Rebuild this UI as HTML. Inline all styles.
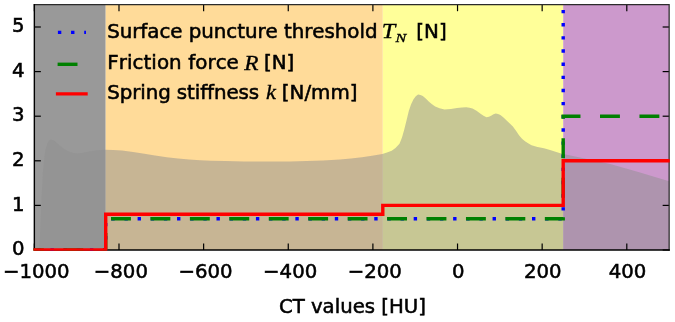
<!DOCTYPE html>
<html><head><meta charset="utf-8"><title>CT values plot</title>
<style>
html,body{margin:0;padding:0;background:#fff;}
svg{display:block;filter:blur(0.4px)}
text{font-family:"DejaVu Sans","Liberation Sans",sans-serif;font-size:20px;fill:#000;stroke:#000;stroke-width:0.55px;font-kerning:none;font-variant-ligatures:none;font-feature-settings:"kern" 0,"liga" 0,"clig" 0}
.lg text{font-size:19.85px}
.tk text{font-size:19.7px}
.lg text.m{font-family:"Liberation Serif","DejaVu Serif",serif;font-style:italic;stroke-width:0.35px}
</style></head><body>
<svg width="675" height="322" viewBox="0 0 675 322">
<rect width="675" height="322" fill="#fff"/>
<defs><clipPath id="ax"><rect x="34.35" y="4.7" width="634.8" height="245.3"/></clipPath>
<clipPath id="ax2"><rect x="33.45" y="4.1000000000000005" width="636.3" height="246.60000000000002"/></clipPath></defs>
<g clip-path="url(#ax)">
<rect x="34.35" y="4.7" width="71.35" height="245.3" fill="#999999"/>
<rect x="105.7" y="4.7" width="277.10" height="245.3" fill="#ffdb99"/>
<rect x="382.8" y="4.7" width="180.40" height="245.3" fill="#ffff99"/>
<rect x="563.2" y="4.7" width="105.95" height="245.3" fill="#cc99cc"/>
<path d="M39.3,251.0 L40.5,225.0 L41.8,193.0 L43.0,171.6 L44.3,158.0 L45.5,149.8 L47.5,143.0 L49.0,140.6 L51.0,139.6 L54.0,140.6 L58.0,144.0 L63.0,148.3 L68.0,151.3 L73.0,153.0 L77.0,153.4 L82.0,153.0 L88.0,151.8 L95.0,150.6 L105.0,149.8 L113.0,150.0 L122.0,150.5 L133.0,152.0 L144.4,153.8 L155.0,155.6 L166.7,157.3 L178.0,158.6 L189.0,159.6 L200.0,160.2 L211.0,160.7 L225.0,161.1 L244.0,161.5 L270.0,161.6 L290.0,161.4 L306.7,161.1 L323.0,160.5 L340.0,159.6 L351.0,158.6 L362.0,157.3 L372.0,155.8 L382.4,153.9 L387.0,152.6 L391.7,150.8 L395.5,148.0 L399.5,143.7 L402.0,137.5 L404.2,129.7 L406.5,120.5 L408.8,111.0 L411.0,104.5 L413.5,99.3 L415.8,96.2 L418.1,94.6 L420.5,94.9 L422.8,96.1 L426.0,98.8 L429.0,101.7 L432.0,104.2 L435.2,106.4 L439.5,108.3 L444.5,109.5 L451.0,108.9 L457.0,108.0 L462.0,107.4 L466.3,107.3 L469.5,107.7 L472.5,108.6 L476.5,110.8 L480.2,113.5 L483.5,115.8 L486.5,117.3 L489.0,116.8 L491.1,115.7 L493.5,114.2 L495.8,113.5 L498.0,113.9 L500.4,115.1 L503.5,117.5 L506.6,120.4 L509.8,123.4 L512.9,126.6 L516.0,130.8 L519.0,135.3 L522.0,138.7 L525.3,141.5 L528.5,143.6 L531.5,145.2 L537.5,146.9 L543.9,148.3 L550.0,150.0 L556.3,152.0 L561.0,153.6 L563.2,154.0 L587.0,159.1 L611.0,164.3 L640.0,172.6 L659.0,178.2 L671.0,181.7 L671.0,251.0Z" fill="#8f8f8f" fill-opacity="0.5"/>
</g>
<g fill="none" stroke="#000" stroke-width="1.2">
<line x1="34.35" y1="250.00" x2="34.35" y2="243.50"/><line x1="34.35" y1="4.70" x2="34.35" y2="11.20"/><line x1="118.99" y1="250.00" x2="118.99" y2="243.50"/><line x1="118.99" y1="4.70" x2="118.99" y2="11.20"/><line x1="203.62" y1="250.00" x2="203.62" y2="243.50"/><line x1="203.62" y1="4.70" x2="203.62" y2="11.20"/><line x1="288.26" y1="250.00" x2="288.26" y2="243.50"/><line x1="288.26" y1="4.70" x2="288.26" y2="11.20"/><line x1="372.89" y1="250.00" x2="372.89" y2="243.50"/><line x1="372.89" y1="4.70" x2="372.89" y2="11.20"/><line x1="457.53" y1="250.00" x2="457.53" y2="243.50"/><line x1="457.53" y1="4.70" x2="457.53" y2="11.20"/><line x1="542.16" y1="250.00" x2="542.16" y2="243.50"/><line x1="542.16" y1="4.70" x2="542.16" y2="11.20"/><line x1="626.80" y1="250.00" x2="626.80" y2="243.50"/><line x1="626.80" y1="4.70" x2="626.80" y2="11.20"/><line x1="34.35" y1="250.00" x2="40.85" y2="250.00"/><line x1="669.15" y1="250.00" x2="662.65" y2="250.00"/><line x1="34.35" y1="205.40" x2="40.85" y2="205.40"/><line x1="669.15" y1="205.40" x2="662.65" y2="205.40"/><line x1="34.35" y1="160.80" x2="40.85" y2="160.80"/><line x1="669.15" y1="160.80" x2="662.65" y2="160.80"/><line x1="34.35" y1="116.20" x2="40.85" y2="116.20"/><line x1="669.15" y1="116.20" x2="662.65" y2="116.20"/><line x1="34.35" y1="71.60" x2="40.85" y2="71.60"/><line x1="669.15" y1="71.60" x2="662.65" y2="71.60"/><line x1="34.35" y1="27.00" x2="40.85" y2="27.00"/><line x1="669.15" y1="27.00" x2="662.65" y2="27.00"/>
</g>
<path d="M34.35,4.7 H669.15 V250.0" fill="none" stroke="#2b2b2b" stroke-width="1.25" stroke-linecap="square"/>
<path d="M34.35,4.7 V250.0 H669.15" fill="none" stroke="#000" stroke-width="1.4" stroke-linecap="square"/>
<g clip-path="url(#ax2)" fill="none" stroke-width="3.4" stroke-linejoin="miter">
<path d="M23.90,250.00 H105.70 V218.78 H563.20 V-20" stroke="#0000ff" stroke-dasharray="3.4 9.747" stroke-dashoffset="-0.3"/>
<path d="M23.90,250.00 H105.70 V218.78 H563.20 V116.20 H679.27" stroke="#008000" stroke-dasharray="19.9 19.54"/>
<path d="M23.90,250.00 H105.70 V214.32 H382.80 V205.40 H563.20 V160.80 H679.27" stroke="#ff0000"/>
</g>
<g fill="none" stroke-width="3.4">
<path d="M57.6,32.4 H86" stroke="#0000ff" stroke-dasharray="3.4 9.747" stroke-dashoffset="-0.3"/>
<path d="M57.6,64.3 H86" stroke="#008000" stroke-dasharray="19.9 19.54"/>
<path d="M57.6,93.9 H86" stroke="#ff0000" stroke-linecap="square"/>
</g>
<g class="lg">
<text x="107.2" y="37.8" style="letter-spacing:-0.048px">Surface puncture threshold</text>
<text class="m" transform="translate(381.8,37.9) scale(1.1,1)" style="font-size:22px">T</text>
<text class="m" transform="translate(395.5,42.1) scale(1.2,1)" style="font-size:13.4px">N</text>
<text x="416.3" y="37.8">[N]</text>
<text x="107.2" y="69.3" style="letter-spacing:0.07px">Friction force</text>
<text class="m" transform="translate(244.2,69.5) scale(1.06,1)" style="font-size:22px">R</text>
<text x="264" y="69.3">[N]</text>
<text x="107.2" y="99.3" style="letter-spacing:-0.1px">Spring stiffness</text>
<text class="m" transform="translate(266,99.2) scale(1.04,1)" style="font-size:21.5px">k</text>
<text x="281.8" y="99.3">[N/mm]</text>
</g>
<g class="tk"><text x="36.25" y="278.4" text-anchor="middle">−1000</text><text x="120.89" y="278.4" text-anchor="middle">−800</text><text x="205.52" y="278.4" text-anchor="middle">−600</text><text x="290.16" y="278.4" text-anchor="middle">−400</text><text x="374.79" y="278.4" text-anchor="middle">−200</text><text x="458.23" y="278.4" text-anchor="middle">0</text><text x="542.86" y="278.4" text-anchor="middle">200</text><text x="627.50" y="278.4" text-anchor="middle">400</text>
<text x="24.5" y="255.10" text-anchor="end">0</text><text x="24.5" y="210.50" text-anchor="end">1</text><text x="24.5" y="165.90" text-anchor="end">2</text><text x="24.5" y="121.30" text-anchor="end">3</text><text x="24.5" y="76.70" text-anchor="end">4</text><text x="24.5" y="32.10" text-anchor="end">5</text></g>
<text x="352.4" y="312.8" text-anchor="middle" style="font-size:19.7px">CT values [HU]</text>
</svg>
</body></html>
